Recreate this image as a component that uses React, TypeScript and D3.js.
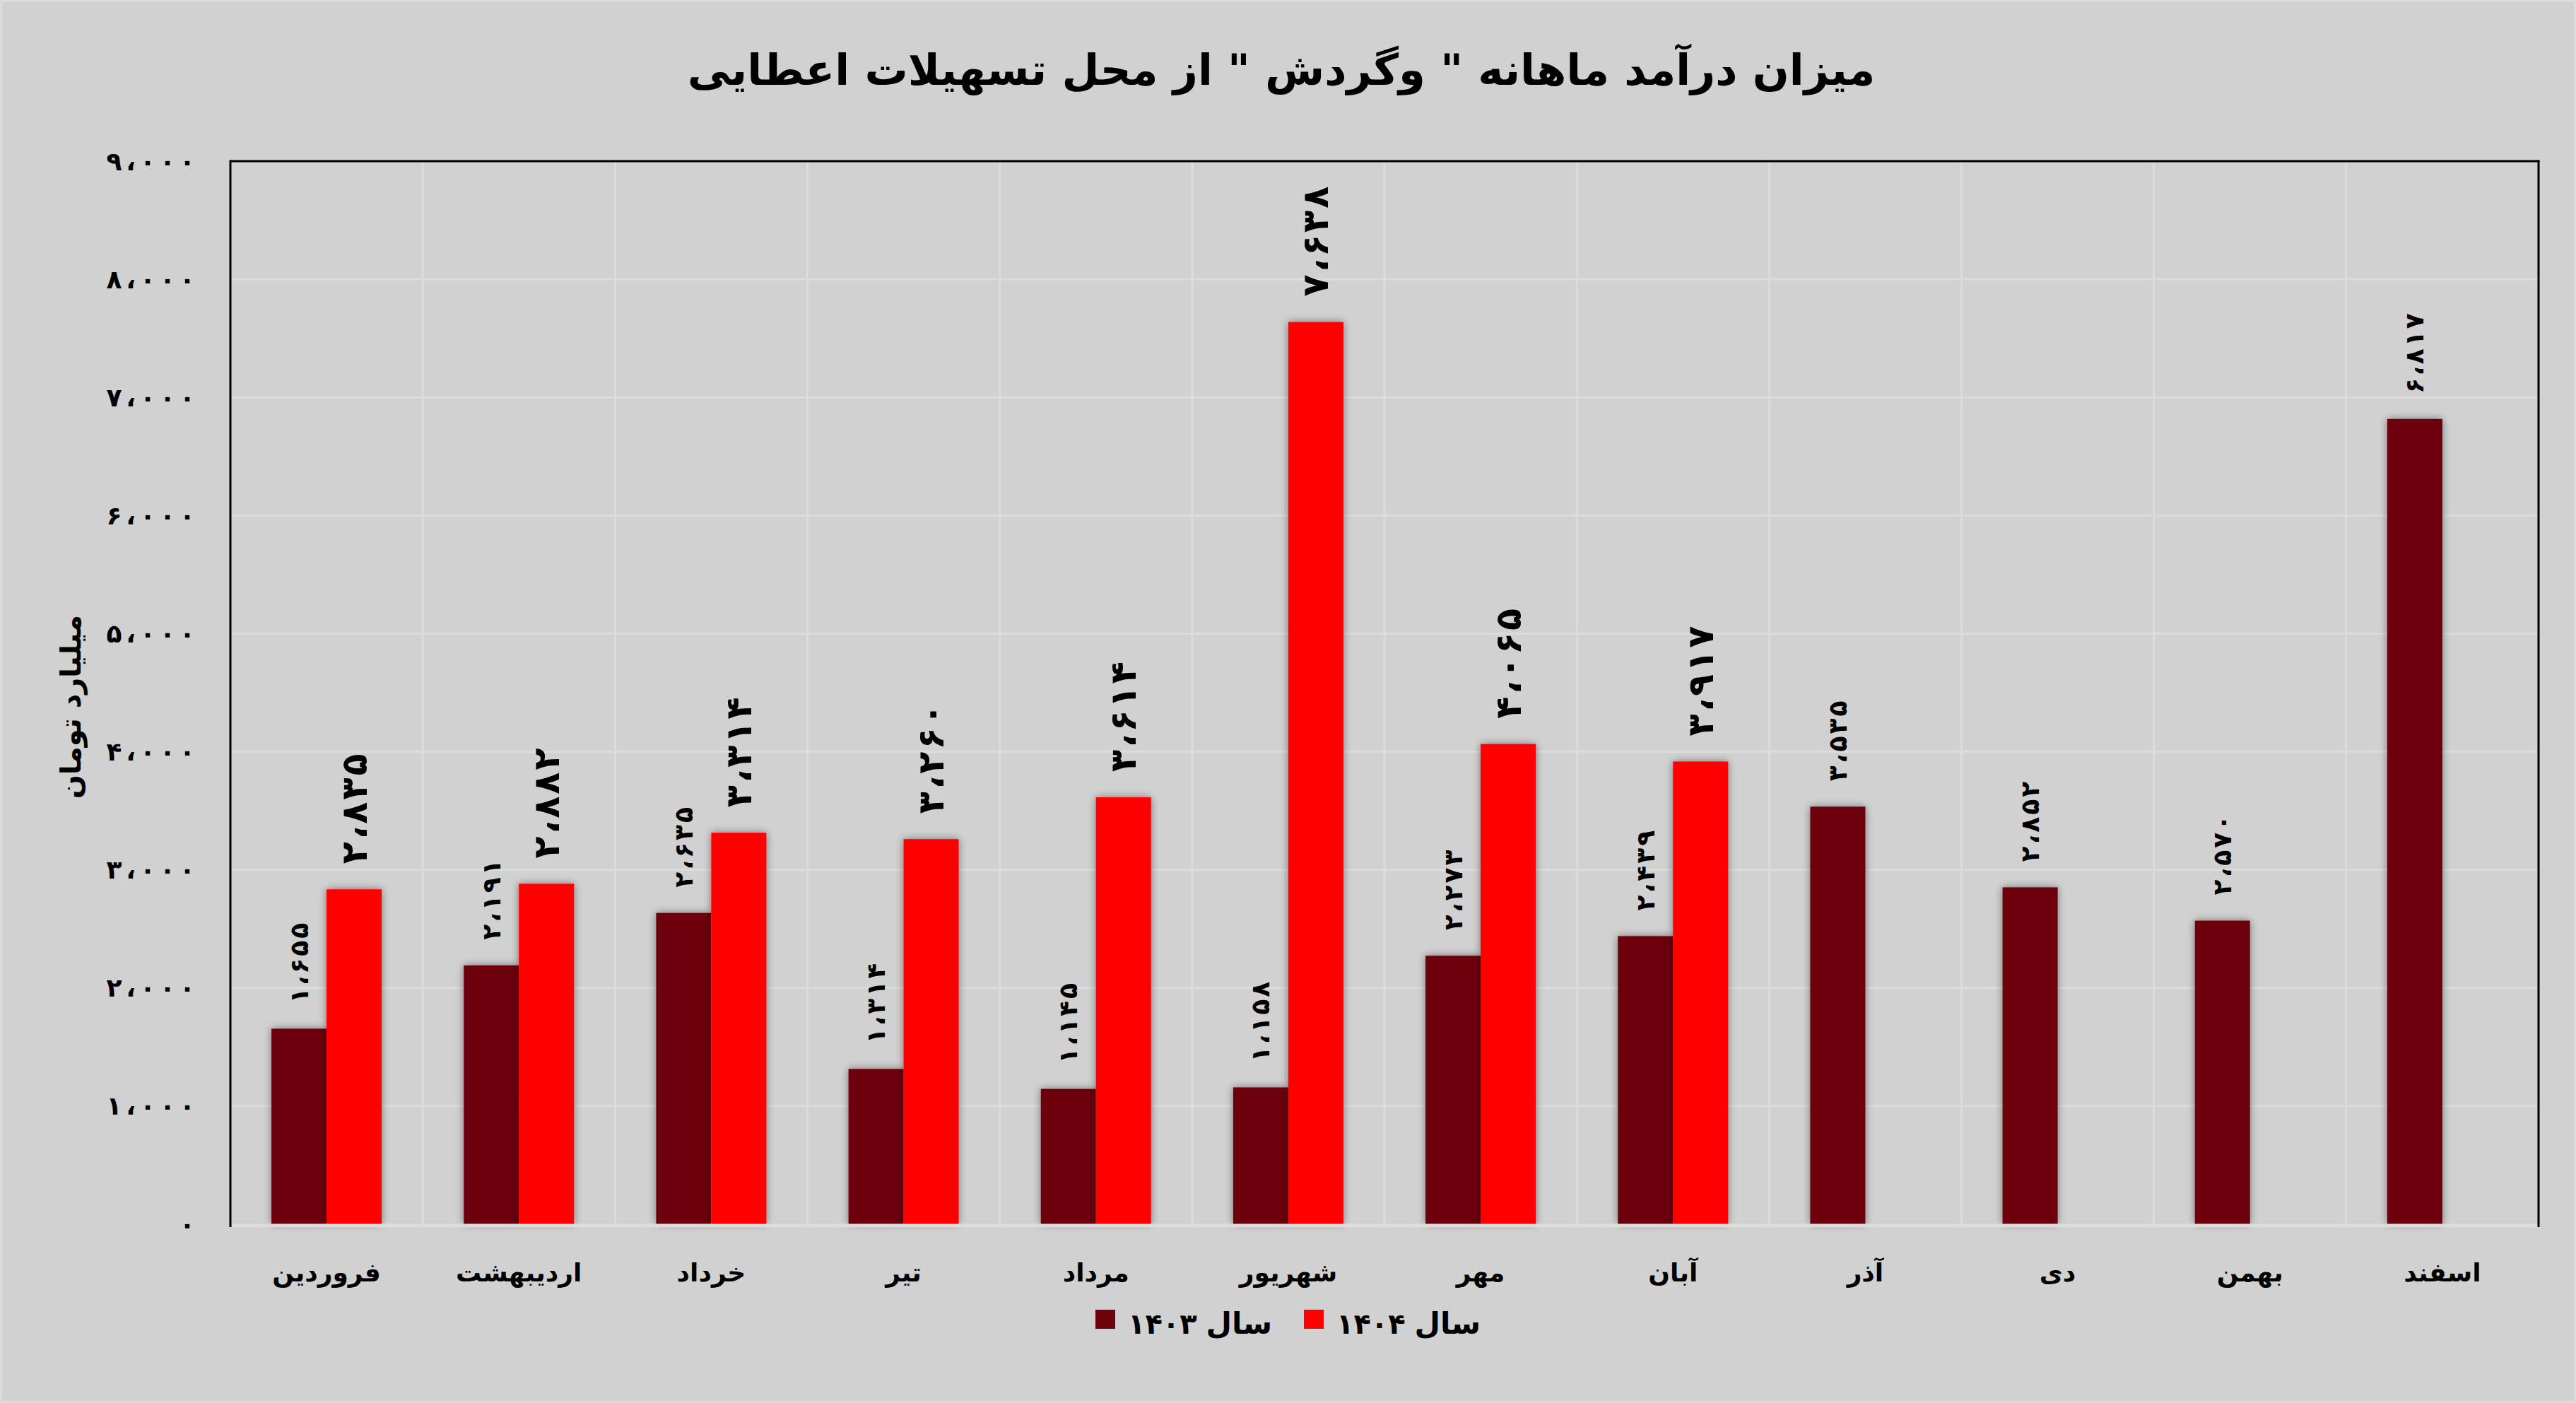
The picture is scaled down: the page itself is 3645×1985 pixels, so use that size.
import React from 'react';
import * as d3 from 'd3';

const months = ['فروردین', 'اردیبهشت', 'خرداد', 'تیر', 'مرداد', 'شهریور', 'مهر', 'آبان', 'آذر', 'دی', 'بهمن', 'اسفند'];
const values1403 = [1655, 2191, 2635, 1314, 1145, 1158, 2273, 2439, 3535, 2852, 2570, 6817];
const values1404: (number | null)[] = [2835, 2882, 3314, 3260, 3614, 7638, 4065, 3917, null, null, null, null];
const yTicks = [0, 1000, 2000, 3000, 4000, 5000, 6000, 7000, 8000, 9000];
const seriesWord = ['سال', 'سال'];
const seriesYear = ['۱۴۰۳', '۱۴۰۴'];
const titleText = 'میزان درآمد ماهانه " وگردش " از محل تسهیلات اعطایی';
const yAxisTitle = 'میلیارد تومان';

const W = 3645;
const H = 1985;
const FONT = "'DejaVu Sans', sans-serif";
const DARK = '#6d040b';
const RED = '#ff0000';

const toFa = (s: string) => s.replace(/[0-9]/g, (d) => '۰۱۲۳۴۵۶۷۸۹'[+d]);
const fmt = (n: number) => toFa(d3.format(',')(n)).replace(/,/g, '،');
// per-character extra gap (letter-spacing is ignored by the browser for Arabic-script digits)
const gaps = (s: string, g: number) => Array.from(s).map((_, i) => (i === 0 ? 0 : g)).join(' ');

export default function App() {
  const left = 326, right = 3592, top = 228, bottom = 1732;
  const x = d3.scaleBand<string>().domain(months).range([left, right]).paddingInner(0.427).paddingOuter(0.2135);
  const step = x.step();
  const x1 = d3.scaleBand<string>().domain(['a', 'b']).range([0, x.bandwidth()]);
  const y = d3.scaleLinear().domain([0, 9000]).range([bottom, top]);

  return (
    <svg width={W} height={H} style={{ position: 'absolute', left: 0, top: 0, display: 'block' }}>
      <defs>
        <filter id="sh" x="-40%" y="-10%" width="180%" height="120%">
          <feDropShadow dx="0" dy="0" stdDeviation="6" floodColor="#000" floodOpacity="0.45" />
        </filter>
      </defs>
      <rect x={0} y={0} width={W} height={H} fill="#dcdcdc" />
      <rect x={3} y={3} width={W - 6} height={H - 6} fill="#d1d1d1" />

      <text x={1813} y={120} textAnchor="middle" fontFamily={FONT} fontWeight="bold" fontSize={61} direction="rtl" fill="#000">
        {titleText}
      </text>

      {/* grid */}
      {yTicks.filter((t) => t > 0 && t < 9000).map((t) => (
        <line key={'h' + t} x1={left} x2={right} y1={y(t)} y2={y(t)} stroke="#dcdcdc" strokeWidth={3} />
      ))}
      {d3.range(1, 12).map((i) => (
        <line key={'v' + i} x1={left + i * step} x2={left + i * step} y1={top} y2={bottom} stroke="#dcdcdc" strokeWidth={3} />
      ))}

      {/* bars */}
      {months.map((m, i) => (
        <g key={m}>
          <rect x={(x(m) as number) + (x1('a') as number)} y={y(values1403[i])} width={x1.bandwidth()} height={bottom - y(values1403[i])} fill={DARK} filter="url(#sh)" />
          {values1404[i] != null && (
            <rect x={(x(m) as number) + (x1('b') as number)} y={y(values1404[i] as number)} width={x1.bandwidth()} height={bottom - y(values1404[i] as number)} fill={RED} filter="url(#sh)" />
          )}
        </g>
      ))}

      {/* axes lines */}
      <line x1={left} x2={right} y1={bottom + 2} y2={bottom + 2} stroke="#dcdcdc" strokeWidth={5} />
      <line x1={left} x2={right + 1.5} y1={top} y2={top} stroke="#000" strokeWidth={3} />
      <line x1={left} x2={left} y1={top - 1.5} y2={bottom + 4} stroke="#000" strokeWidth={3} />
      <line x1={right} x2={right} y1={top - 1.5} y2={bottom + 4} stroke="#000" strokeWidth={3} />

      {/* value labels */}
      {months.map((m, i) => {
        const cx = (x(m) as number) + (x1('a') as number) + x1.bandwidth() / 2;
        const ty = y(values1403[i]) - 36;
        const s = fmt(values1403[i]);
        return (
          <text key={'l3' + m} transform={`translate(${cx},${ty}) rotate(-90)`} dx={gaps(s, 3)} dominantBaseline="central" fontFamily={FONT} fontWeight="bold" fontSize={36} fill="#000">
            {s}
          </text>
        );
      })}
      {months.map((m, i) => {
        const v = values1404[i];
        if (v == null) return null;
        const cx = (x(m) as number) + (x1('b') as number) + x1.bandwidth() / 2;
        const ty = y(v) - 36;
        const s = fmt(v);
        return (
          <text key={'l4' + m} transform={`translate(${cx},${ty}) rotate(-90)`} dx={gaps(s, 3)} dominantBaseline="central" fontFamily={FONT} fontWeight="bold" fontSize={51} fill="#000">
            {s}
          </text>
        );
      })}

      {/* y ticks */}
      {yTicks.map((t) => {
        const s = fmt(t);
        return (
          <text key={'yt' + t} x={276} y={y(t)} dx={gaps(s, 6)} textAnchor="end" dominantBaseline="central" fontFamily={FONT} fontWeight="bold" fontSize={36} fill="#000">
            {s}
          </text>
        );
      })}

      {/* y title */}
      <text transform={`translate(100,1000) rotate(-90)`} textAnchor="middle" dominantBaseline="central" fontFamily={FONT} fontWeight="bold" fontSize={40} direction="rtl" fill="#000">
        {yAxisTitle}
      </text>

      {/* x labels */}
      {months.map((m) => (
        <text key={'xl' + m} x={(x(m) as number) + x.bandwidth() / 2} y={1813} textAnchor="middle" fontFamily={FONT} fontWeight="bold" fontSize={36} fill="#000">
          {m}
        </text>
      ))}

      {/* legend */}
      {[0, 1].map((k) => {
        const sx = k === 0 ? 1550 : 1845;
        return (
          <g key={'lg' + k}>
            <rect x={sx} y={1853} width={28} height={27} fill={k === 0 ? DARK : RED} />
            <text x={sx + 46} y={1887} textAnchor="start" fontFamily={FONT} fontWeight="bold" fontSize={40} fill="#000">
              {seriesYear[k]}
            </text>
            <text x={sx + 250} y={1887} textAnchor="end" fontFamily={FONT} fontWeight="bold" fontSize={42} fill="#000">
              {seriesWord[k]}
            </text>
          </g>
        );
      })}
    </svg>
  );
}
